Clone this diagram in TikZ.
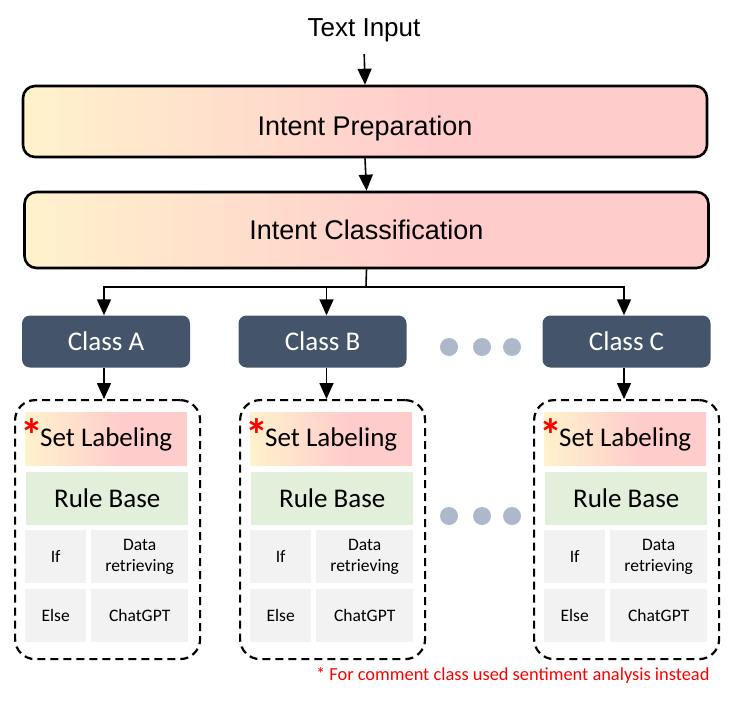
\documentclass[tikz,border=0pt]{standalone}
\usepackage{fontspec}
\setmainfont{Carlito}
\newfontfamily\arialfont{Liberation Sans}
\usetikzlibrary{arrows.meta}

\definecolor{warmA}{HTML}{FFF2CC}
\definecolor{warmB}{HTML}{FFCCCC}
\definecolor{slate}{HTML}{44546A}
\definecolor{ruleG}{HTML}{E2EFDA}
\definecolor{cellG}{HTML}{F2F2F2}
\definecolor{dotG}{HTML}{ADB9CA}
\pgfdeclarehorizontalshading{warm}{100bp}{color(0bp)=(warmA); color(25bp)=(warmA); color(55bp)=(warmB); color(100bp)=(warmB)}

\begin{document}
\begin{tikzpicture}[x=1pt, y=-1pt,
    stage/.style={rectangle, draw, line width=2.6pt, rounded corners=12pt, shade, shading=warm, minimum width=684pt, font=\arialfont\fontsize{27}{32}\selectfont},
    classbox/.style={rectangle, fill=slate, text=white, rounded corners=8pt, minimum width=168pt, minimum height=52pt, font=\fontsize{27}{30}\selectfont},
    groupbox/.style={rectangle, draw, line width=2.2pt, dash pattern=on 8pt off 5pt, rounded corners=20pt, minimum width=185pt, minimum height=259pt},
    setlab/.style={rectangle, shade, shading=warm, minimum width=162pt, minimum height=53pt, text height=20pt, text depth=4pt, font=\fontsize{27}{30}\selectfont},
    rulebox/.style={rectangle, fill=ruleG, minimum width=162pt, minimum height=53pt, font=\fontsize{27}{30}\selectfont},
    cellnarrow/.style={rectangle, fill=cellG, minimum width=61pt, minimum height=53pt, font=\fontsize{17.5}{21}\selectfont},
    cellwide/.style={cellnarrow, minimum width=97pt, align=center},
    star/.style={text=red, inner sep=0pt, font=\bfseries\fontsize{46}{46}\selectfont},
    dot/.style={circle, fill=dotG, minimum size=18pt, inner sep=0pt},
    flow/.style={-{Triangle[width=14pt,length=16pt]}, line width=1.6pt},
    bus/.style={line width=1.6pt}
]
    \useasboundingbox (0,0) rectangle (738,702);

    % Input and stages
    \node[font=\arialfont\fontsize{26}{30}\selectfont] (input) at (364,30) {Text Input};
    \node[stage, minimum height=71pt, text height=28pt, text depth=0pt] (prep) at (365,121.5) {Intent Preparation};
    \node[stage, minimum height=76pt] (classif) at (366.5,230) {Intent Classification};

    \draw[flow, shorten <=9pt] (input.south) -- (prep.north);
    \draw[flow] (prep.south) -- (classif.north);

    % Branches
    \coordinate (fork) at (366,287);
    \draw[bus] (classif.south) -- (fork);

    % Classes with their rule groups
    \foreach \gx/\cx/\ox/\n in {14/106/-2/A, 239/322.5/4/B, 533/626.5/-2.5/C} {
        \node[classbox] (cls\n) at (\cx,341.5) {Class \n};
        \node[groupbox, anchor=north west] (grp\n) at (\gx,399) {};
        \node[setlab, anchor=north west] (set\n) at (\gx+11,412) {Set Labeling};
        \node[star, anchor=north] (ast\n) at (\gx+17.5,418) {*};
        \node[rulebox, anchor=north west] (rule\n) at (\gx+12,472) {Rule Base};
        \node[cellnarrow, anchor=north west] (if\n) at (\gx+11,530) {If};
        \node[cellwide, anchor=north west] (data\n) at (\gx+77,530) {Data\\retrieving};
        \node[cellnarrow, anchor=north west] (else\n) at (\gx+11,589) {Else};
        \node[cellwide, anchor=north west] (gpt\n) at (\gx+77,589) {ChatGPT};
        \draw[flow] (fork) -| ([xshift=\ox pt]cls\n.north);
        \draw[flow] ([xshift=\ox pt]cls\n.south) -- ([xshift=\ox pt]cls\n.south |- grp\n.north);
    }

    % Ellipsis dots
    \foreach \dx in {449,482,512} {
        \node[dot] (dotU\dx) at (\dx,347) {};
        \node[dot] (dotL\dx) at (\dx,516) {};
    }

    % Note
    \node[text=red, anchor=base east, font=\fontsize{18.4}{22}\selectfont] (note) at (713,680) {* For comment class used sentiment analysis instead};

\end{tikzpicture}
\end{document}
